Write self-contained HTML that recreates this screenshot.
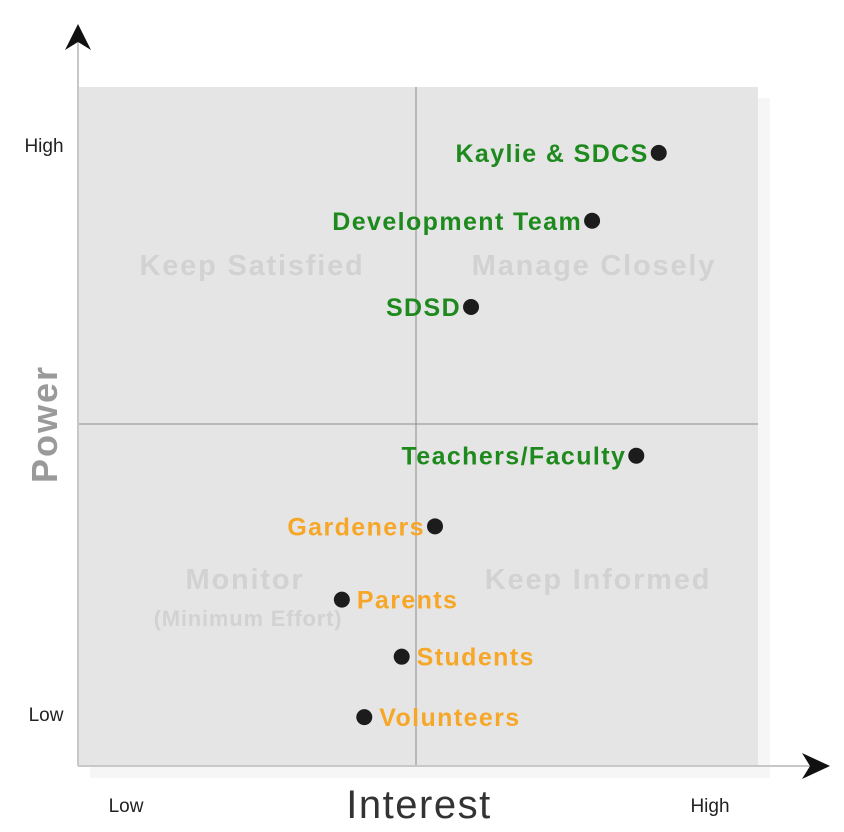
<!DOCTYPE html>
<html><head><meta charset="utf-8"><style>
html,body{margin:0;padding:0;background:#fff;}
svg{display:block;font-family:"Liberation Sans","DejaVu Sans",sans-serif;}
</style></head><body>
<svg id="chart" width="844" height="832" viewBox="0 0 844 832">
<rect x="90" y="98" width="680" height="680" fill="#f6f6f6"/>
<rect x="78" y="87" width="680" height="679" fill="#e5e5e5"/>
<line x1="416" y1="87" x2="416" y2="766" stroke="#8a8a8a" stroke-width="1"/>
<line x1="78" y1="424" x2="758" y2="424" stroke="#8a8a8a" stroke-width="1"/>
<line x1="78" y1="40" x2="78" y2="766" stroke="#c8c8c8" stroke-width="2"/>
<line x1="78" y1="766" x2="815" y2="766" stroke="#c8c8c8" stroke-width="2"/>
<path d="M78,24 L91,50 L78,42 L65,50 Z" fill="#111"/>
<path d="M830,766 L802,753 L810,766 L802,779 Z" fill="#111"/>
<g font-weight="bold" fill="#d2d2d2" font-size="29" text-anchor="middle" letter-spacing="1.8">
<text x="252" y="275">Keep Satisfied</text>
<text x="594" y="275">Manage Closely</text>
<text x="245" y="589">Monitor</text>
<text x="248" y="626" font-size="22" letter-spacing="0.8">(Minimum Effort)</text>
<text x="598" y="589">Keep Informed</text>
</g>
<text x="44" y="152" font-size="19" fill="#222" text-anchor="middle">High</text>
<text x="46" y="721" font-size="19" fill="#222" text-anchor="middle">Low</text>
<text x="126" y="812" font-size="19" fill="#222" text-anchor="middle">Low</text>
<text x="710" y="812" font-size="19" fill="#222" text-anchor="middle">High</text>
<text x="419" y="818" font-size="40" fill="#333" text-anchor="middle" letter-spacing="1.5">Interest</text>
<text transform="translate(57,424) rotate(-90)" font-size="36" font-weight="bold" fill="#9a9a9a" text-anchor="middle" letter-spacing="2">Power</text>
<g id="marks"></g>
</svg>
<script>
const names = ["Kaylie & SDCS","Development Team","SDSD","Teachers/Faculty","Gardeners","Parents","Students","Volunteers"];
const interest = [8.54,7.56,5.78,8.21,5.25,3.88,4.76,4.21];
const power = [9.03,8.03,6.76,4.57,3.53,2.45,1.61,0.72];
const groups = ["key","key","key","key","minor","minor","minor","minor"];
const labelSide = ["left","left","left","left","left","right","right","right"];
const X = v => 78 + v / 10 * 680;
const Y = v => 766 - v / 10 * 679;
const g = document.getElementById('marks');
const NS = "http://www.w3.org/2000/svg";
for (let i = 0; i < names.length; i++) {
  const cx = X(interest[i]), cy = Y(power[i]);
  const c = document.createElementNS(NS, 'circle');
  c.setAttribute('cx', cx); c.setAttribute('cy', cy); c.setAttribute('r', 8);
  c.setAttribute('fill', '#1c1c1c');
  
  
  g.appendChild(c);
  const t = document.createElementNS(NS, 'text');
  const left = labelSide[i] === 'left';
  t.setAttribute('x', left ? cx - 10 : cx + 15);
  t.setAttribute('y', cy + 9);
  t.setAttribute('text-anchor', left ? 'end' : 'start');
  t.setAttribute('font-size', '25');
  t.setAttribute('font-weight', 'bold');
  t.setAttribute('letter-spacing', '1.4');
  t.setAttribute('fill', groups[i] === 'key' ? '#1e8a1e' : '#f7a728');
  t.textContent = names[i];
  
  
  g.appendChild(t);
}
</script>
</body></html>
